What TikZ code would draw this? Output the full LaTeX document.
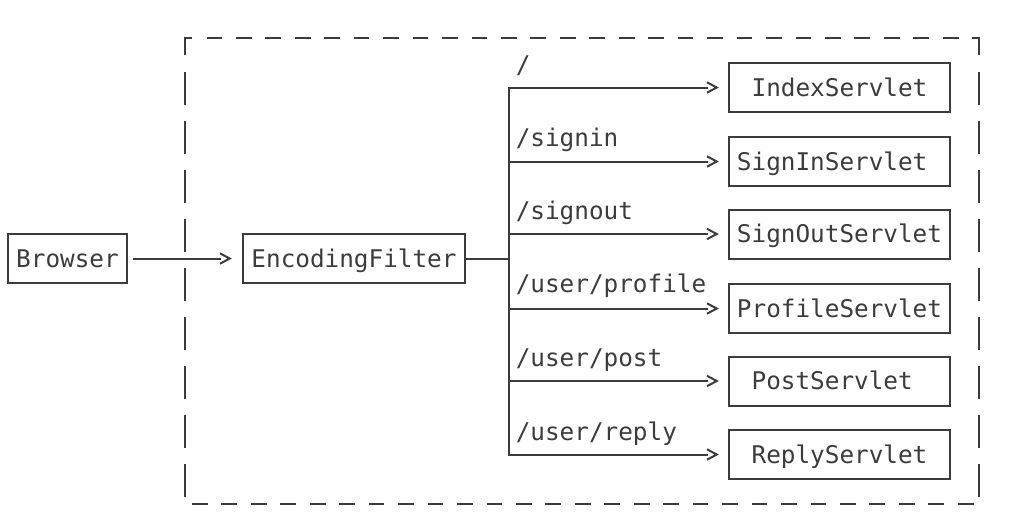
\documentclass[tikz,border=0pt]{standalone}
\usepackage{fontspec}
\newfontfamily\monofnt{DejaVu Sans Mono}
\usetikzlibrary{arrows.meta}
\definecolor{ink}{HTML}{3C3C3C}
\pgfdeclarearrow{
  name=Chev,
  setup code={
    \pgfarrowssettipend{0pt}
    \pgfarrowssetbackend{-9.5pt}
    \pgfarrowssetlineend{-9.3pt}
    \pgfarrowshullpoint{0pt}{0pt}
    \pgfarrowshullpoint{-9.5pt}{4.6pt}
    \pgfarrowshullpoint{-9.5pt}{-4.6pt}
  },
  drawing code={
    \pgfsetlinewidth{1.5pt}
    \pgfsetdash{}{0pt}
    \pgfsetmiterjoin
    \pgfsetbuttcap
    \pgfpathmoveto{\pgfqpoint{-9pt}{3.9pt}}
    \pgfpathlineto{\pgfqpoint{-1.7pt}{0pt}}
    \pgfpathlineto{\pgfqpoint{-9pt}{-3.9pt}}
    \pgfusepathqstroke
  }
}
\begin{document}
\begin{tikzpicture}[x=0.75pt,y=-0.75pt,
  txtfont/.style={font=\monofnt\fontsize{18.25pt}{22pt}\selectfont, text=ink},
  box/.style={draw=ink, line width=1.5pt, txtfont, inner sep=0pt,
    minimum height=36.75pt, text height=13.3pt, text depth=0pt},
  sbox/.style={box, minimum width=165.75pt},
  conn/.style={draw=ink, line width=1.5pt, line cap=rect},
  arr/.style={conn, -{Chev}},
  lbl/.style={txtfont, inner sep=0pt, anchor=base west},
  frame/.style={draw=ink, line width=1.6pt, line join=miter}
]
\fill[white] (0,0) rectangle (1031,518);
\useasboundingbox (0,0) rectangle (1031,518);

% dashed frame
\draw[frame] (185,55) -- (185,38) -- (192,38);
\draw[frame] (972,38) -- (979,38) -- (979,55);
\draw[frame, dash pattern=on 11.78pt off 10.31pt] (206.5,38) -- (958.5,38);
\draw[frame, dash pattern=on 11.78pt off 10.31pt] (192,504) -- (974,504);
\draw[frame, dash pattern=on 24.75pt off 12pt] (185,72) -- (185,497);
\draw[frame, dash pattern=on 24.75pt off 12pt] (979,72) -- (979,497);

% nodes
\node[box, minimum width=89.25pt] (browser) at (67.5,258.5) {Browser};
\node[box, minimum width=166.5pt] (enc) at (354,258.5) {EncodingFilter};
\node[sbox] (index)   at (839.5,87.5)  {IndexServlet};
\node[sbox] (signin)  at (839.5,161.5) {SignInServlet\hphantom{t}};
\node[sbox] (signout) at (839.5,234)   {SignOutServlet};
\node[sbox] (profile) at (839.5,308.5) {ProfileServlet};
\node[sbox] (post)    at (839.5,381)   {PostServlet\hphantom{t}};
\node[sbox] (reply)   at (839.5,454.5) {ReplyServlet};

% trunk
\coordinate (tx) at (508.5,0);
\coordinate (t1) at (tx |- index.west);
\coordinate (t2) at (tx |- signin.west);
\coordinate (t3) at (tx |- signout.west);
\coordinate (t4) at (tx |- profile.west);
\coordinate (t5) at (tx |- post.west);
\coordinate (t6) at (tx |- reply.west);
\coordinate (te) at (tx |- enc.east);

% connectors
\draw[arr, shorten <=4.5pt, shorten >=7.5pt] (browser.east) -- (enc.west);
\draw[conn] (enc.east) -- (te);
\draw[conn] (t1) -- (t6);
\draw[arr, shorten >=6.75pt] (t1) -- (index.west);
\draw[arr, shorten >=6.75pt] (t2) -- (signin.west);
\draw[arr, shorten >=6.75pt] (t3) -- (signout.west);
\draw[arr, shorten >=6.75pt] (t4) -- (profile.west);
\draw[arr, shorten >=6.75pt] (t5) -- (post.west);
\draw[arr, shorten >=6.75pt] (t6) -- (reply.west);

% labels
\node[lbl] (l1) at (515.5,73.3)  {/};
\node[lbl] (l2) at (515.5,146.3) {/signin};
\node[lbl] (l3) at (515.5,219.3) {/signout};
\node[lbl] (l4) at (515.5,292.3) {/user/profile};
\node[lbl] (l5) at (515.5,366.5) {/user/post};
\node[lbl] (l6) at (515.5,440.3) {/user/reply};
\end{tikzpicture}
\end{document}
